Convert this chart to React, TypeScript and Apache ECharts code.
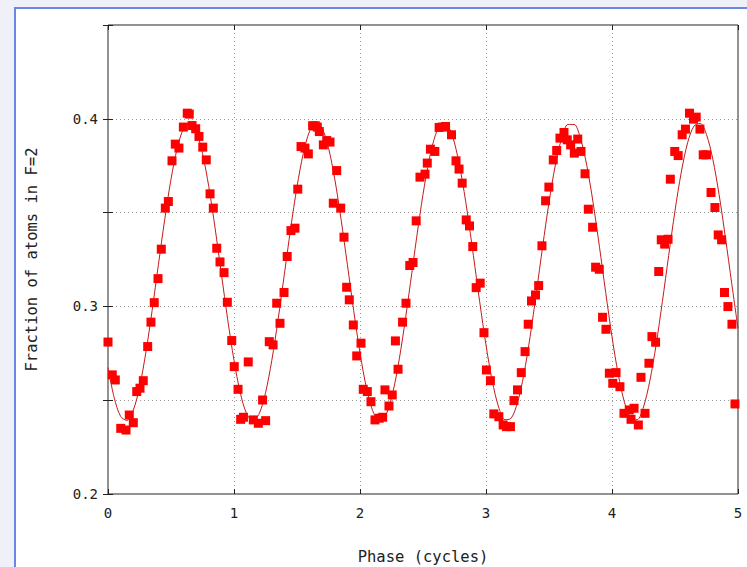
import React, { useEffect, useRef } from "react";
import * as echarts from "echarts";

const curveStep = 0.05;
const curveValues = [
  0.2673, 0.2511, 0.2414, 0.2392, 0.2445, 0.2569, 0.2752, 0.2977, 0.3222, 0.3463,
  0.3678, 0.3845, 0.3949, 0.3980, 0.3934, 0.3816, 0.3638, 0.3417, 0.3173, 0.2930,
  0.2712, 0.2539, 0.2428, 0.2390, 0.2428, 0.2539, 0.2712, 0.2930, 0.3173, 0.3417,
  0.3638, 0.3816, 0.3934, 0.3980, 0.3949, 0.3845, 0.3678, 0.3463, 0.3222, 0.2977,
  0.2752, 0.2569, 0.2445, 0.2392, 0.2414, 0.2512, 0.2673, 0.2884, 0.3123, 0.3369,
  0.3597, 0.3786, 0.3916, 0.3977, 0.3961, 0.3871, 0.3715, 0.3509, 0.3271, 0.3025,
  0.2794, 0.2601, 0.2464, 0.2396, 0.2404, 0.2487, 0.2636, 0.2839, 0.3075, 0.3321,
  0.3554, 0.3752, 0.3895, 0.3970, 0.3970, 0.3895, 0.3751, 0.3553, 0.3320, 0.3074,
  0.2838, 0.2636, 0.2486, 0.2404, 0.2396, 0.2464, 0.2602, 0.2795, 0.3026, 0.3272,
  0.3510, 0.3716, 0.3872, 0.3961, 0.3976, 0.3916, 0.3785, 0.3596, 0.3368, 0.3123,
  0.2883,
];

// Measured points: phase (cycles)
const phase = [
  0.000, 0.034, 0.058, 0.101, 0.143, 0.169, 0.201, 0.228, 0.254, 0.280,
  0.315, 0.341, 0.367, 0.397, 0.423, 0.455, 0.479, 0.508, 0.534, 0.563,
  0.598, 0.629, 0.645, 0.667, 0.696, 0.722, 0.752, 0.780, 0.810, 0.836,
  0.863, 0.889, 0.921, 0.947, 0.982, 1.002, 1.032, 1.053, 1.075, 1.113,
  1.153, 1.193, 1.227, 1.251, 1.280, 1.310, 1.339, 1.365, 1.397, 1.422,
  1.452, 1.484, 1.506, 1.532, 1.563, 1.590, 1.624, 1.645, 1.661, 1.677,
  1.709, 1.736, 1.762, 1.788, 1.815, 1.847, 1.873, 1.894, 1.915, 1.947,
  1.974, 2.008, 2.026, 2.058, 2.087, 2.119, 2.153, 2.180, 2.198, 2.230,
  2.256, 2.281, 2.302, 2.338, 2.365, 2.395, 2.421, 2.446, 2.476, 2.516,
  2.534, 2.559, 2.594, 2.628, 2.655, 2.679, 2.726, 2.762, 2.786, 2.811,
  2.843, 2.869, 2.895, 2.922, 2.954, 2.984, 3.003, 3.035, 3.062, 3.102,
  3.136, 3.163, 3.194, 3.222, 3.250, 3.280, 3.310, 3.335, 3.361, 3.393,
  3.418, 3.444, 3.473, 3.499, 3.534, 3.561, 3.587, 3.619, 3.645, 3.672,
  3.701, 3.728, 3.754, 3.786, 3.812, 3.846, 3.870, 3.899, 3.925, 3.952,
  3.979, 4.006, 4.032, 4.063, 4.095, 4.137, 4.151, 4.175, 4.209, 4.230,
  4.262, 4.293, 4.317, 4.346, 4.371, 4.391, 4.418, 4.445, 4.463, 4.498,
  4.525, 4.557, 4.583, 4.615, 4.647, 4.668, 4.698, 4.724, 4.751, 4.786,
  4.817, 4.843, 4.870, 4.893, 4.920, 4.952, 4.976,
];

// Measured points: fraction of atoms in F=2
const fraction = [
  0.2810, 0.2635, 0.2608, 0.2350, 0.2341, 0.2421, 0.2380, 0.2546, 0.2564, 0.2604,
  0.2786, 0.2916, 0.3020, 0.3148, 0.3305, 0.3524, 0.3559, 0.3776, 0.3865, 0.3844,
  0.3956, 0.4030, 0.4025, 0.3964, 0.3947, 0.3906, 0.3849, 0.3781, 0.3600, 0.3524,
  0.3310, 0.3237, 0.3180, 0.3022, 0.2818, 0.2679, 0.2558, 0.2398, 0.2409, 0.2704,
  0.2395, 0.2377, 0.2501, 0.2391, 0.2812, 0.2795, 0.3017, 0.2910, 0.3074, 0.3266,
  0.3404, 0.3417, 0.3625, 0.3852, 0.3844, 0.3813, 0.3963, 0.3963, 0.3956, 0.3932,
  0.3861, 0.3884, 0.3876, 0.3550, 0.3724, 0.3524, 0.3369, 0.3102, 0.3035, 0.2901,
  0.2736, 0.2804, 0.2558, 0.2546, 0.2492, 0.2395, 0.2404, 0.2409, 0.2555, 0.2469,
  0.2528, 0.2816, 0.2665, 0.2916, 0.3017, 0.3218, 0.3234, 0.3456, 0.3689, 0.3705,
  0.3764, 0.3838, 0.3826, 0.3954, 0.3956, 0.3959, 0.3915, 0.3776, 0.3732, 0.3657,
  0.3461, 0.3429, 0.3319, 0.3100, 0.3124, 0.2860, 0.2661, 0.2604, 0.2427, 0.2412,
  0.2368, 0.2359, 0.2359, 0.2498, 0.2555, 0.2647, 0.2759, 0.2905, 0.3029, 0.3061,
  0.3111, 0.3323, 0.3563, 0.3636, 0.3781, 0.3831, 0.3897, 0.3927, 0.3888, 0.3861,
  0.3817, 0.3892, 0.3826, 0.3707, 0.3518, 0.3422, 0.3209, 0.3198, 0.2942, 0.2878,
  0.2644, 0.2590, 0.2647, 0.2572, 0.2430, 0.2448, 0.2398, 0.2457, 0.2368, 0.2622,
  0.2430, 0.2697, 0.2839, 0.2809, 0.3186, 0.3355, 0.3332, 0.3358, 0.3678, 0.3826,
  0.3804, 0.3915, 0.3945, 0.4030, 0.3998, 0.4009, 0.3945, 0.3808, 0.3808, 0.3607,
  0.3527, 0.3381, 0.3355, 0.3074, 0.2999, 0.2905, 0.2480,
];

const xTicks = [0, 1, 2, 3, 4, 5];
const yLabelled = [0.2, 0.3, 0.4];

const FONT = "'DejaVu Sans Mono', 'Liberation Mono', monospace";

export default function App() {
  const ref = useRef<HTMLDivElement>(null);

  useEffect(() => {
    if (!ref.current) return;
    const chart = echarts.init(ref.current, null, { renderer: "svg" });

    const curveData = curveValues.map((v, i) => [i * curveStep, v]);
    const pointData = phase.map((p, i) => [p, fraction[i]]);

    const gridLine = {
      show: true,
      lineStyle: { color: "#9a9a9a", type: [1, 3] as number[], width: 1 },
    };

    chart.setOption({
      animation: false,
      backgroundColor: "transparent",
      grid: {
        left: 108,
        right: 9,
        top: 25,
        bottom: 73,
        show: true,
        borderColor: "#222",
        borderWidth: 1,
        backgroundColor: "#ffffff",
        containLabel: false,
        outerBoundsMode: "none",
      },
      xAxis: [
        {
          type: "value",
          min: xTicks[0],
          max: xTicks[xTicks.length - 1],
          interval: 1,
          name: "Phase (cycles)",
          nameLocation: "middle",
          nameGap: 55,
          nameTextStyle: { fontFamily: FONT, fontSize: 15.5, color: "#222" },
          axisLine: { show: false },
          axisTick: { show: true, inside: true, length: 5, lineStyle: { color: "#222" } },
          axisLabel: { fontFamily: FONT, fontSize: 14, color: "#222", margin: 12 },
          splitLine: gridLine,
        },
        {
          type: "value",
          position: "top",
          min: xTicks[0],
          max: xTicks[xTicks.length - 1],
          interval: 1,
          axisLine: { show: false },
          axisTick: { show: true, inside: true, length: 5, lineStyle: { color: "#222" } },
          axisLabel: { show: false },
          splitLine: { show: false },
        },
      ],
      yAxis: [
        {
          type: "value",
          min: 0.2,
          max: 0.45,
          interval: 0.05,
          name: "Fraction of atoms in F=2",
          nameLocation: "middle",
          nameGap: 68,
          nameTextStyle: { fontFamily: FONT, fontSize: 15.5, color: "#222" },
          axisLine: { show: false },
          axisTick: { show: true, inside: true, length: 5, lineStyle: { color: "#222" } },
          axisLabel: {
            fontFamily: FONT,
            fontSize: 14,
            color: "#222",
            margin: 10,
            formatter: (v: number) =>
              yLabelled.some((t) => Math.abs(t - v) < 1e-6) ? v.toFixed(1) : "",
          },
          splitLine: gridLine,
        },
        {
          type: "value",
          position: "right",
          min: 0.2,
          max: 0.45,
          interval: 0.05,
          axisLine: { show: false },
          axisTick: { show: true, inside: true, length: 5, lineStyle: { color: "#222" } },
          axisLabel: { show: false },
          splitLine: { show: false },
        },
      ],
      series: [
        {
          type: "line",
          data: curveData,
          smooth: 0.3,
          showSymbol: false,
          symbol: "none",
          lineStyle: { color: "#c41a1a", width: 1 },
          z: 2,
        },
        {
          type: "scatter",
          data: pointData,
          symbol: "rect",
          symbolSize: 9,
          itemStyle: { color: "#ff0000", opacity: 1 },
          z: 3,
        },
      ],
    });

    return () => chart.dispose();
  }, []);

  return (
    <div
      style={{
        position: "fixed",
        left: 0,
        top: 0,
        width: 747,
        height: 567,
        background: "#eff0f8",
        overflow: "hidden",
      }}
    >
      <div
        style={{
          position: "absolute",
          left: 14,
          top: 7,
          width: 740,
          height: 570,
          background: "#ffffff",
          borderLeft: "2px solid #6a86e6",
          borderTop: "2px solid #6a86e6",
        }}
      />
      <div
        ref={ref}
        style={{ position: "absolute", left: 0, top: 0, width: 747, height: 567 }}
      />
    </div>
  );
}
